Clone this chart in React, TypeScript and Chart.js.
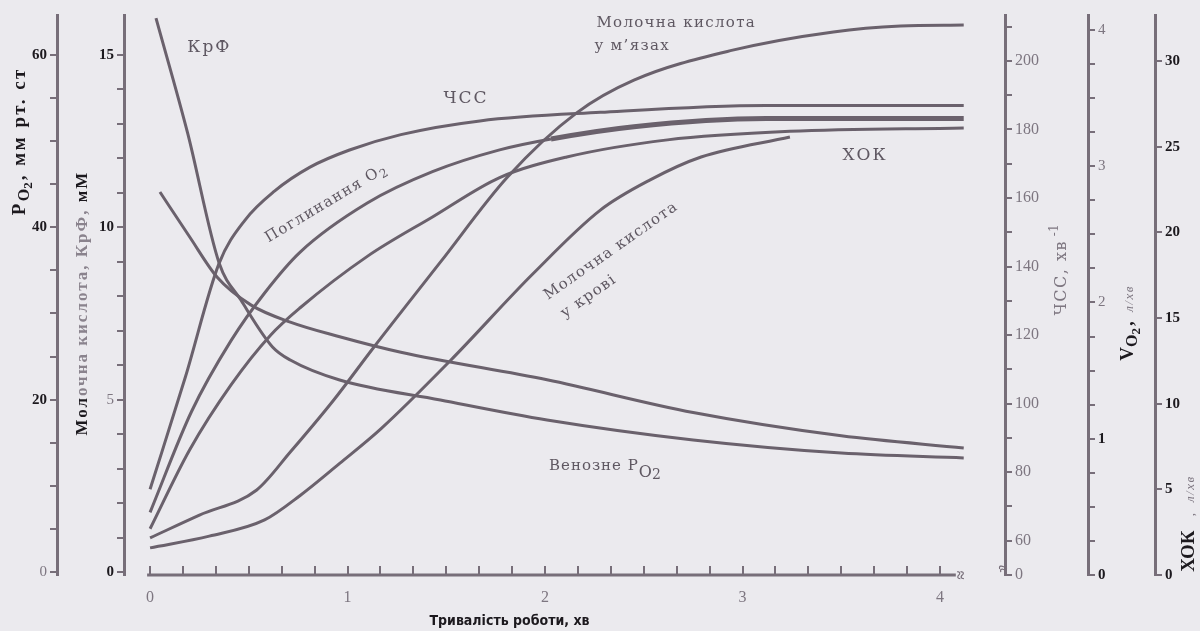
import React, { useEffect, useRef } from 'react';
import { Chart, registerables } from 'chart.js';

Chart.register(...registerables);

// ---------------- axes: ticks & labels ----------------
const timeTickValues = [0, 1 / 6, 2 / 6, 3 / 6, 4 / 6, 5 / 6, 1, 7 / 6, 8 / 6, 9 / 6, 10 / 6, 11 / 6, 2, 13 / 6, 14 / 6, 15 / 6, 16 / 6, 17 / 6, 3, 19 / 6, 20 / 6, 21 / 6, 22 / 6, 23 / 6, 4];
const timeLabelValues = [0, 1, 2, 3, 4];
const timeLabelTexts = ['0', '1', '2', '3', '4'];

const po2TickValues = [0, 5, 10, 15, 20, 25, 30, 35, 40, 45, 50, 55, 60];
const po2LabelValues = [0, 20, 40, 60];
const po2LabelTexts = ['0', '20', '40', '60'];

const mmTickValues = [0, 1, 2, 3, 4, 5, 6, 7, 8, 9, 10, 11, 12, 13, 14, 15];
const mmLabelValues = [0, 5, 10, 15];
const mmLabelTexts = ['0', '5', '10', '15'];

const hrTickValues = [50, 60, 70, 80, 90, 100, 110, 120, 130, 140, 150, 160, 170, 180, 190, 200, 210];
const hrLabelValues = [50, 60, 80, 100, 120, 140, 160, 180, 200];
const hrLabelTexts = ['0', '60', '80', '100', '120', '140', '160', '180', '200'];

const vo2TickValues = [0, 0.25, 0.5, 0.75, 1, 1.25, 1.5, 1.75, 2, 2.25, 2.5, 2.75, 3, 3.25, 3.5, 3.75, 4];
const vo2LabelValues = [0, 1, 2, 3, 4];
const vo2LabelTexts = ['0', '1', '2', '3', '4'];

const coTickValues = [0, 5, 10, 15, 20, 25, 30];
const coLabelValues = [0, 5, 10, 15, 20, 25, 30];
const coLabelTexts = ['0', '5', '10', '15', '20', '25', '30'];

// ---------------- series (time in min) ----------------
// ЧСС, уд/хв
const hrTime = [0, 0.18, 0.35, 0.48, 0.63, 0.81, 1.01, 1.27, 1.67, 2.28, 3.12, 4.12];
const hrValues = [75, 108, 141, 153.5, 162, 169, 174, 178.5, 182.5, 185, 187, 187];
// Поглинання O2, л/хв
const vo2Time = [0, 0.21, 0.41, 0.58, 0.76, 1.1, 1.43, 1.77, 2.03, 2.45, 3.12, 4.12];
const vo2Values = [0.46, 1.2, 1.72, 2.07, 2.37, 2.73, 2.96, 3.12, 3.2, 3.29, 3.35, 3.35];
// ХОК, л/хв
const coTime = [0, 0.2, 0.41, 0.61, 0.76, 1.1, 1.43, 1.77, 2.11, 2.62, 3.24, 4.12];
const coValues = [2.7, 7.3, 11.1, 14.0, 15.6, 18.6, 20.9, 23.2, 24.4, 25.4, 25.9, 26.1];
// Молочна кислота у м'язах, мМ
const muscleLactTime = [0, 0.25, 0.54, 0.71, 0.93, 1.13, 1.47, 1.81, 2.16, 2.45, 2.95, 3.46, 3.8, 4.12];
const muscleLactValues = [0.99, 1.65, 2.38, 3.48, 4.99, 6.5, 8.99, 11.46, 13.32, 14.27, 15.14, 15.67, 15.84, 15.87];
// Молочна кислота у крові, мМ
const bloodLactTime = [0, 0.3, 0.58, 0.76, 0.96, 1.17, 1.52, 1.94, 2.28, 2.53, 2.79, 3.24];
const bloodLactValues = [0.7, 1.04, 1.51, 2.22, 3.15, 4.16, 6.13, 8.66, 10.5, 11.37, 12.04, 12.62];
// КрФ, мМ
const crpTime = [0.03, 0.19, 0.35, 0.46, 0.62, 0.71, 0.96, 1.47, 2.01, 2.75, 3.5, 4.12];
const crpValues = [16.07, 12.74, 8.96, 7.89, 6.53, 6.15, 5.57, 4.99, 4.41, 3.83, 3.45, 3.31];
// Венозне PO2, мм рт. ст
const venousPo2Time = [0.05, 0.2, 0.34, 0.51, 0.71, 0.96, 1.27, 2.01, 2.75, 3.5, 4.12];
const venousPo2Values = [44.1, 38.9, 34.2, 31.0, 29.0, 27.3, 25.5, 22.3, 18.5, 15.8, 14.4];

// ---------------- styling ----------------
const SERIF = '"Liberation Serif", "DejaVu Serif", serif';
const WIDE = '"DejaVu Serif", "Liberation Serif", serif';
const NARROW = '"Liberation Sans Narrow", "DejaVu Sans Condensed", "Liberation Sans", sans-serif';
const BG = '#ebeaee';
const LINE = '#6a616c';
const AXIS = '#776e79';
const BLACK = '#1c191e';
const GRAY = '#7d7680';
const LABEL_GRAY = '#5f5862';

type Style = { font: string; color: string; dy: number; ls?: number };
const textStyles: Record<string, Style> = {
  lbl: { font: `normal 15px ${WIDE}`, color: LABEL_GRAY, dy: 0, ls: 1.3 },
  lblBig: { font: `normal 17px ${WIDE}`, color: LABEL_GRAY, dy: 0, ls: 2 },
  lblSub: { font: `normal 12px ${WIDE}`, color: LABEL_GRAY, dy: 4 },
  venP: { font: `normal 15px ${WIDE}`, color: LABEL_GRAY, dy: 0, ls: 1 },
  venO: { font: `normal 16px ${WIDE}`, color: LABEL_GRAY, dy: 7 },
  ven2: { font: `normal 14px ${WIDE}`, color: LABEL_GRAY, dy: 9 },
  tBold: { font: `bold 19px ${SERIF}`, color: BLACK, dy: 0, ls: 2.5 },
  tBoldO: { font: `bold 16px ${SERIF}`, color: BLACK, dy: 4 },
  tBoldSub: { font: `bold 13px ${SERIF}`, color: BLACK, dy: 7, ls: 2 },
  molBlack: { font: `bold 17px ${SERIF}`, color: BLACK, dy: 0, ls: 2 },
  molGray: { font: `bold 17px ${SERIF}`, color: '#8a838d', dy: 0, ls: 2 },
  hrTitle: { font: `normal 16px ${WIDE}`, color: GRAY, dy: 0, ls: 1.5 },
  hrSup: { font: `normal 12px ${WIDE}`, color: GRAY, dy: -8 },
  vBold: { font: `bold 19px ${SERIF}`, color: BLACK, dy: 0 },
  unitGray: { font: `italic 13px ${SERIF}`, color: GRAY, dy: 0, ls: 1.5 },
  xTitle: { font: `bold 14px ${NARROW}`, color: BLACK, dy: 0 },
  brk: { font: `bold 16px ${SERIF}`, color: AXIS, dy: 0 },
};

type Part = [string, string];
const curveLabels: { parts: Part[]; t: number; v: number; angle: number; align: 'left' | 'center' }[] = [
  { parts: [['КрФ', 'lblBig']], t: 0.3, v: 15.1, angle: 0, align: 'center' },
  { parts: [['ЧСС', 'lblBig']], t: 1.6, v: 13.6, angle: 0, align: 'center' },
  { parts: [['Поглинання O', 'lbl'], ['2', 'lblSub']], t: 0.9, v: 10.59, angle: -31, align: 'center' },
  { parts: [['Молочна кислота', 'lbl']], t: 2.26, v: 15.81, angle: 0, align: 'left' },
  { parts: [['у м’язах', 'lbl']], t: 2.25, v: 15.14, angle: 0, align: 'left' },
  { parts: [['ХОК', 'lblBig']], t: 3.62, v: 11.95, angle: 0, align: 'center' },
  { parts: [['Молочна кислота', 'lbl']], t: 2.015, v: 7.89, angle: -35, align: 'left' },
  { parts: [['у крові', 'lbl']], t: 2.1, v: 7.37, angle: -35, align: 'left' },
  { parts: [['Венозне P', 'venP'], ['O', 'venO'], ['2', 'ven2']], t: 2.02, v: 2.96, angle: 0, align: 'left' },
];

const axisTitles: { scale: string; offset: number; value: number; parts: Part[] }[] = [
  { scale: 'po2', offset: 25, value: 50, parts: [['P', 'tBold'], ['O', 'tBoldO'], ['2', 'tBoldSub'], [', мм рт. ст', 'tBold']] },
  { scale: 'mm', offset: 30, value: 7.8, parts: [['Мол', 'molBlack'], ['очна кислота, КрФ,', 'molGray'], [' мМ', 'molBlack']] },
  { scale: 'hr', offset: 61, value: 139, parts: [['ЧСС, хв', 'hrTitle'], [' -1', 'hrSup']] },
  { scale: 'vo2', offset: 45, value: 1.85, parts: [['V', 'vBold'], ['O', 'tBoldO'], ['2', 'tBoldSub'], [',  ', 'vBold'], ['л/хв', 'unitGray']] },
  { scale: 'co', offset: 39, value: 3.0, parts: [['ХОК', 'vBold'], ['   ,  л/хв', 'unitGray']] },
];
const xTitle: { parts: Part[]; t: number } = { parts: [['Тривалість роботи, хв', 'xTitle']], t: 1.82 };

const axisLineStart = -0.015;
const axisLineEnd = 4.08;

function drawParts(ctx: CanvasRenderingContext2D, parts: Part[], x: number, y: number, angleDeg: number, align: 'left' | 'center') {
  ctx.save();
  ctx.translate(x, y);
  ctx.rotate((angleDeg * Math.PI) / 180);
  ctx.textAlign = 'left';
  ctx.textBaseline = 'alphabetic';
  const c: any = ctx;
  let total = 0;
  for (const [text, key] of parts) {
    const st = textStyles[key];
    ctx.font = st.font;
    c.letterSpacing = `${st.ls || 0}px`;
    total += ctx.measureText(text).width;
  }
  let cx = align === 'center' ? -total / 2 : 0;
  for (const [text, key] of parts) {
    const st = textStyles[key];
    ctx.font = st.font;
    c.letterSpacing = `${st.ls || 0}px`;
    ctx.fillStyle = st.color;
    ctx.fillText(text, cx, st.dy);
    cx += ctx.measureText(text).width;
  }
  c.letterSpacing = '0px';
  ctx.restore();
}

function labelFor(values: number[], texts: string[], v: number) {
  const i = values.findIndex((x) => Math.abs(x - v) < 1e-6);
  return i >= 0 ? texts[i] : '';
}

const textPlugin = {
  id: 'textPlugin',
  afterDraw(chart: any) {
    const ctx: CanvasRenderingContext2D = chart.ctx;
    const s = chart.scales;
    ctx.save();
    ctx.strokeStyle = AXIS;
    ctx.lineWidth = 3;
    ctx.beginPath();
    ctx.moveTo(s.x.getPixelForValue(axisLineStart), s.x.top);
    ctx.lineTo(s.x.getPixelForValue(axisLineEnd), s.x.top);
    ctx.stroke();
    ctx.restore();
    drawParts(ctx, [['≈', 'brk']], s.x.getPixelForValue(4.13), s.x.top, -90, 'center');
    drawParts(ctx, [['≈', 'brk']], s.hr.left, s.hr.bottom - 2, -20, 'center');
    for (const l of curveLabels) {
      drawParts(ctx, l.parts, s.x.getPixelForValue(l.t), s.mm.getPixelForValue(l.v), l.angle, l.align);
    }
    for (const a of axisTitles) {
      const sc = s[a.scale];
      drawParts(ctx, a.parts, sc.left + a.offset, sc.getPixelForValue(a.value), -90, 'center');
    }
    drawParts(ctx, xTitle.parts, s.x.getPixelForValue(xTitle.t), s.x.bottom - 6, 0, 'center');
  },
};

type FontFn = (ctx: any) => any;
function yScale(position: 'left' | 'right', weight: number, min: number, max: number, width: number,
  tickValues: number[], labelValues: number[], labelTexts: string[], font: FontFn, color: FontFn) {
  return {
    type: 'linear',
    position,
    weight,
    min,
    max,
    afterBuildTicks: (sc: any) => { sc.ticks = tickValues.map((value) => ({ value })); },
    afterFit: (sc: any) => { sc.width = width; sc.paddingTop = 0; sc.paddingBottom = 0; },
    border: { display: true, color: AXIS, width: 3 },
    grid: { drawOnChartArea: false, drawTicks: true, tickLength: 7, color: AXIS, lineWidth: 2 },
    ticks: {
      autoSkip: false,
      padding: 3,
      callback: (v: number) => labelFor(labelValues, labelTexts, v),
      font,
      color,
    },
  };
}

export default function App() {
  const ref = useRef<HTMLCanvasElement>(null);
  useEffect(() => {
    document.body.style.margin = '0';
    const canvas = ref.current!;
    const mk = (times: number[], values: number[], axis: string, extra: any = {}) => ({
      data: times.map((t, i) => ({ x: t, y: values[i] })),
      yAxisID: axis,
      borderColor: LINE,
      borderWidth: 3,
      pointRadius: 0,
      fill: false,
      cubicInterpolationMode: 'monotone',
      ...extra,
    });
    const tickVal = (c: any) => (c.tick ? c.tick.value : 0);
    const chart = new Chart(canvas, {
      type: 'line',
      data: {
        datasets: [
          mk(hrTime, hrValues, 'hr'),
          mk(vo2Time, vo2Values, 'vo2', { segment: { borderWidth: (c: any) => (c.p0.parsed.x >= 1.9 ? 5 : 3) } }),
          mk(coTime, coValues, 'co'),
          mk(muscleLactTime, muscleLactValues, 'mm'),
          mk(bloodLactTime, bloodLactValues, 'mm'),
          mk(crpTime, crpValues, 'mm'),
          mk(venousPo2Time, venousPo2Values, 'po2'),
        ] as any,
      },
      options: {
        animation: false,
        responsive: true,
        maintainAspectRatio: false,
        events: [],
        layout: { padding: { top: 15, left: 0, right: 0, bottom: 0 } },
        plugins: { legend: { display: false }, tooltip: { enabled: false }, title: { display: false } },
        scales: {
          x: {
            type: 'linear',
            min: -0.132,
            max: 4.329,
            afterBuildTicks: (sc: any) => { sc.ticks = timeTickValues.map((value) => ({ value })); },
            afterFit: (sc: any) => { sc.height = 56; sc.paddingLeft = 0; sc.paddingRight = 0; },
            border: { display: false },
            grid: { drawOnChartArea: false, drawTicks: true, tickLength: -9, color: AXIS, lineWidth: 2 },
            ticks: {
              autoSkip: false,
              maxRotation: 0,
              padding: 22,
              color: GRAY,
              font: { family: SERIF, size: 16 },
              callback: (v: number) => {
                const i = timeLabelValues.findIndex((x) => Math.abs(x - v) < 1e-3);
                return i >= 0 ? timeLabelTexts[i] : '';
              },
            },
          },
          po2: yScale('left', 1, -0.35, 64.64, 57, po2TickValues, po2LabelValues, po2LabelTexts,
            (c) => ({ family: SERIF, size: 15, weight: tickVal(c) === 0 ? 'normal' : 'bold' }),
            (c) => (tickVal(c) === 0 ? GRAY : BLACK)),
          mm: yScale('left', 0, -0.087, 16.16, 67, mmTickValues, mmLabelValues, mmLabelTexts,
            (c) => ({ family: SERIF, size: 15, weight: tickVal(c) === 5 ? 'normal' : 'bold' }),
            (c) => (tickVal(c) === 5 ? GRAY : BLACK)),
          hr: yScale('right', 0, 50, 213.4, 83, hrTickValues, hrLabelValues, hrLabelTexts,
            () => ({ family: SERIF, size: 16, weight: 'normal' }),
            () => GRAY),
          vo2: yScale('right', 1, 0, 4.11, 67, vo2TickValues, vo2LabelValues, vo2LabelTexts,
            (c) => ({ family: SERIF, size: 15, weight: tickVal(c) <= 1 ? 'bold' : 'normal' }),
            (c) => (tickVal(c) <= 1 ? BLACK : GRAY)),
          co: yScale('right', 2, 0, 32.69, 45, coTickValues, coLabelValues, coLabelTexts,
            () => ({ family: SERIF, size: 15, weight: 'bold' }),
            () => BLACK),
        } as any,
      },
      plugins: [textPlugin],
    });
    return () => chart.destroy();
  }, []);
  return (
    <div style={{ position: 'absolute', left: 0, top: 0, width: 1200, height: 631, background: BG }}>
      <canvas ref={ref} style={{ display: 'block' }} />
    </div>
  );
}
